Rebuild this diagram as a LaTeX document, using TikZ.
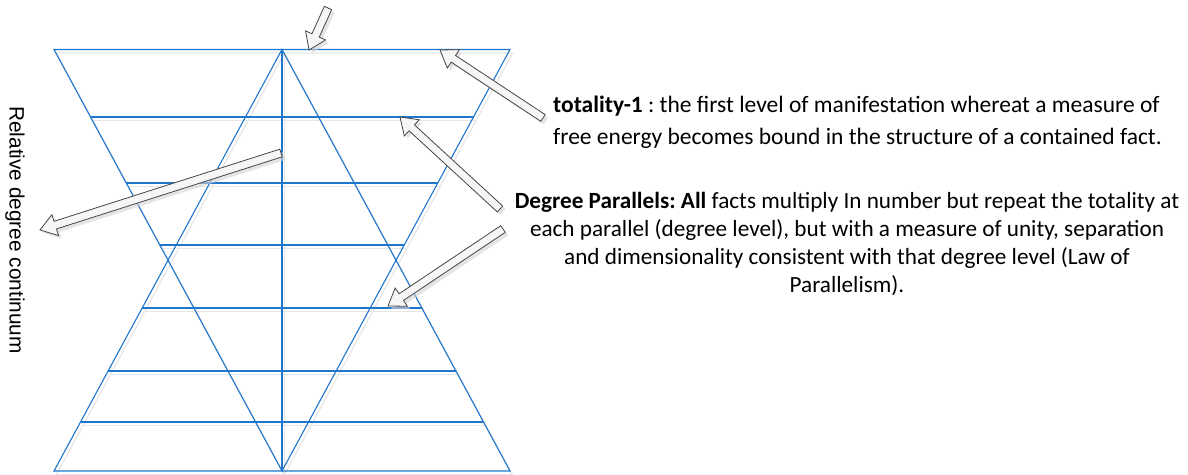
\documentclass[tikz,border=0pt]{standalone}
\usepackage{fontspec}
\setmainfont{Carlito}
\newfontfamily\axisfont{Liberation Sans}
\usetikzlibrary{calc}
\frenchspacing

\definecolor{levelblue}{RGB}{30,118,205}
\definecolor{levelshadow}{RGB}{230,230,230}
\definecolor{arrowedge}{RGB}{70,70,70}
\definecolor{arrowfill}{RGB}{246,246,246}

\newcommand{\levelgrid}{%
  \draw (54,49.5) -- (510,49.5) -- (282,471) -- cycle;
  \draw (282,49.5) -- (510,471) -- (54,471) -- cycle;
  \draw (282,49.5) -- (282,471);
  \draw (90.5,117) -- (473.5,117);
  \draw (126,183) -- (438,183);
  \draw (160,245) -- (404,245);
  \draw (142,308) -- (422,308);
  \draw (108,371) -- (456,371);
  \draw (80.5,422) -- (483.5,422);
}

\newcommand{\fatarrow}[2]{%
  \coordinate (headbase) at ($(#2)!16pt!(#1)$);
  \begin{scope}[transform canvas={xshift=3pt,yshift=-3pt}]
    \fill[gray!35, opacity=0.6] ($(#1)!4pt!90:(#2)$) -- ($(headbase)!4pt!90:(#2)$)
      -- ($(headbase)!11pt!90:(#2)$) -- (#2) -- ($(headbase)!11pt!-90:(#2)$)
      -- ($(headbase)!4pt!-90:(#2)$) -- ($(#1)!4pt!-90:(#2)$) -- cycle;
  \end{scope}
  \filldraw[arrowbody] ($(#1)!4pt!90:(#2)$) -- ($(headbase)!4pt!90:(#2)$)
    -- ($(headbase)!11pt!90:(#2)$) -- (#2) -- ($(headbase)!11pt!-90:(#2)$)
    -- ($(headbase)!4pt!-90:(#2)$) -- ($(#1)!4pt!-90:(#2)$) -- cycle;
}

\begin{document}
\begin{tikzpicture}[x=1pt, y=-1pt,
    arrowbody/.style={draw=arrowedge, fill=arrowfill, line width=0.8pt, line join=miter},
    note/.style={font=\fontsize{23.2}{28.2}\selectfont, inner sep=0pt}]
  \useasboundingbox (0,0) rectangle (1188,474);

  \begin{scope}[transform canvas={xshift=2.5pt,yshift=-3.5pt}, levelshadow, line width=1.2pt]
    \levelgrid
  \end{scope}
  \begin{scope}[levelblue, line width=1.1pt]
    \levelgrid
  \end{scope}

  \node[rotate=-90, font=\axisfont\fontsize{20.8}{24}\selectfont] (axis) at (15,230) {Relative degree continuum};
  \node[note, anchor=west, align=left, font=\fontsize{23.5}{32}\selectfont] (totality) at (553,122)
    {\textbf{totality-1} : the first level of manifestation whereat a measure of\\
     free energy becomes bound in the structure of a contained fact.};
  \node[note, align=center] (parallels) at (847,244)
    {\textbf{Degree Parallels: All} facts multiply In number but repeat the totality at\\
     each parallel (degree level), but with a measure of unity, separation\\
     and dimensionality consistent with that degree level (Law of\\
     Parallelism).};

  \coordinate (apextail) at (328,8);
  \coordinate (apextip) at (309,50);
  \coordinate (firsttail) at (543,118);
  \coordinate (firsttip) at (440,50);
  \coordinate (uptail) at (500,209);
  \coordinate (uptip) at (400,117);
  \coordinate (downtail) at (503,229);
  \coordinate (downtip) at (388,306);
  \coordinate (axistail) at (281,153);
  \coordinate (axistip) at (40,230);

  \fatarrow{apextail}{apextip}
  \fatarrow{firsttail}{firsttip}
  \fatarrow{uptail}{uptip}
  \fatarrow{downtail}{downtip}
  \fatarrow{axistail}{axistip}
\end{tikzpicture}
\end{document}
